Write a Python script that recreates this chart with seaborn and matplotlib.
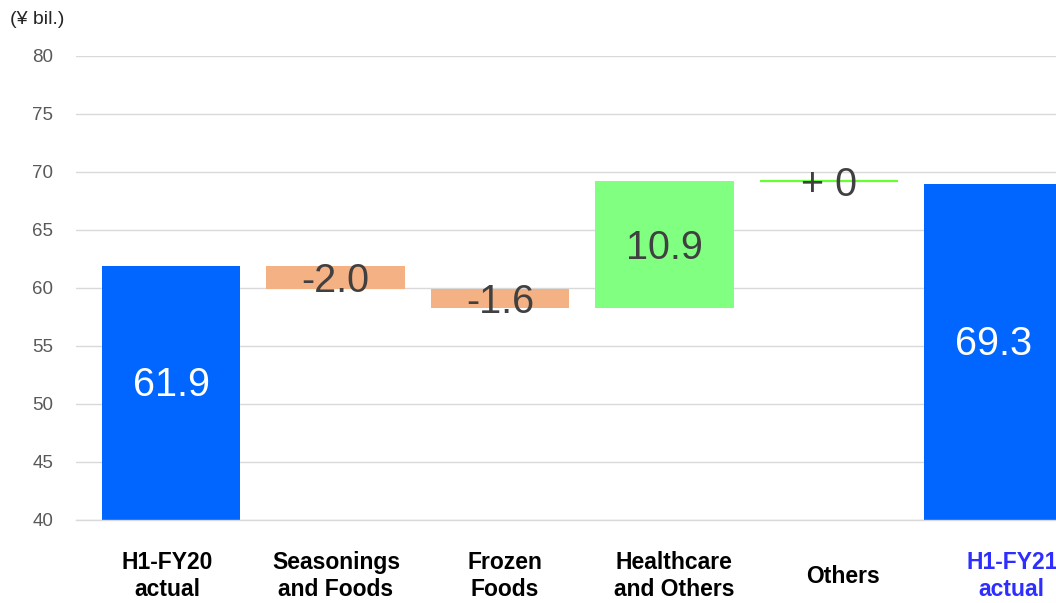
"""
Waterfall — H1 business profit bridge (FY20 -> FY21)
"""

import numpy as np
import pandas as pd
import matplotlib
matplotlib.use("Agg")
import matplotlib.pyplot as plt
import seaborn as sns

# ── Data ──────────────────────────────────────────────────────────────────────
CATEGORIES   = ["H1-FY20\nactual", "Seasonings\nand Foods", "Frozen\nFoods",
                "Healthcare\nand Others", "Others", "H1-FY21\nactual"]
START        = 61.9
DELTAS       = [-2.0, -1.6, 10.9, 0.0]
END          = 69.0          # drawn height of the closing bar
VALUE_LABELS = ["61.9", "-2.0", "-1.6", "10.9", "+ 0", "69.3"]

# ── Style ─────────────────────────────────────────────────────────────────────
BLUE   = "#0066FF"
SALMON = "#F4B183"
GREEN  = "#80FF80"
LINE_G = "#66FF33"
COLORS = [BLUE, SALMON, SALMON, GREEN, LINE_G, BLUE]

sns.set_theme(style="whitegrid")
plt.rcParams["font.family"] = ["Liberation Sans", "DejaVu Sans"]

# ── Build waterfall segments ──────────────────────────────────────────────────
bottoms, heights = [40.0], [START - 40.0]
level = START
for d in DELTAS:
    new = level + d
    bottoms.append(min(level, new))
    heights.append(abs(d))
    level = new
bottoms.append(40.0)
heights.append(END - 40.0)

df = pd.DataFrame({"cat": CATEGORIES, "height": heights, "bottom": bottoms})

# ── Plot ──────────────────────────────────────────────────────────────────────
fig = plt.figure(figsize=(10.56, 6.03), dpi=100)
ax = fig.add_axes([76 / 1056, 83 / 603, 1 - 76 / 1056, 464 / 603])

sns.barplot(data=df, x="cat", y="height", hue="cat", order=CATEGORIES,
            hue_order=CATEGORIES, palette=COLORS, width=0.84, saturation=1,
            legend=False, ax=ax)

patches = sorted(ax.patches, key=lambda p: p.get_x())
for p, b, h in zip(patches, bottoms, heights):
    p.set_y(b)
    if h == 0:
        p.set_edgecolor(LINE_G)
        p.set_linewidth(1.6)
    else:
        p.set_linewidth(0)

# value labels
for i, (b, h, txt) in enumerate(zip(bottoms, heights, VALUE_LABELS)):
    is_total = i in (0, len(CATEGORIES) - 1)
    y = b + h / 2 + (0.7 if is_total else -0.3)
    ax.text(i, y, txt, ha="center", va="center", fontsize=28.5,
            color="white" if is_total else "#404040")

ax.set_ylim(40, 80)
ax.set_xlim(-0.578, 5.38)
ax.set_yticks(np.arange(40, 81, 5))
ax.yaxis.grid(True, color="#D9D9D9", linewidth=1)
ax.xaxis.grid(False)
ax.set_axisbelow(True)
for s in ["top", "right", "left"]:
    ax.spines[s].set_visible(False)
ax.spines["bottom"].set_color("#D9D9D9")
ax.spines["bottom"].set_linewidth(1)
ax.tick_params(axis="y", length=0, pad=16.5, labelsize=13.5, labelcolor="#595959")
ax.tick_params(axis="x", length=0, pad=40.5)

ax.set_xticks(np.arange(len(CATEGORIES)) * 1.027 - 0.024)
ax.set_xticklabels(CATEGORIES, fontsize=16.5, fontweight="bold", linespacing=1.25)
for i, lab in enumerate(ax.get_xticklabels()):
    lab.set_verticalalignment("center")
    lab.set_color("#2E2EFF" if i == len(CATEGORIES) - 1 else "black")
ax.set_xlabel("")
ax.set_ylabel("")

fig.text(10 / 1056, 1 - 20 / 603, "(¥ bil.)", ha="left", va="center",
         fontsize=14, color="#262626")

fig.savefig("out.png", dpi=100, facecolor="white")
